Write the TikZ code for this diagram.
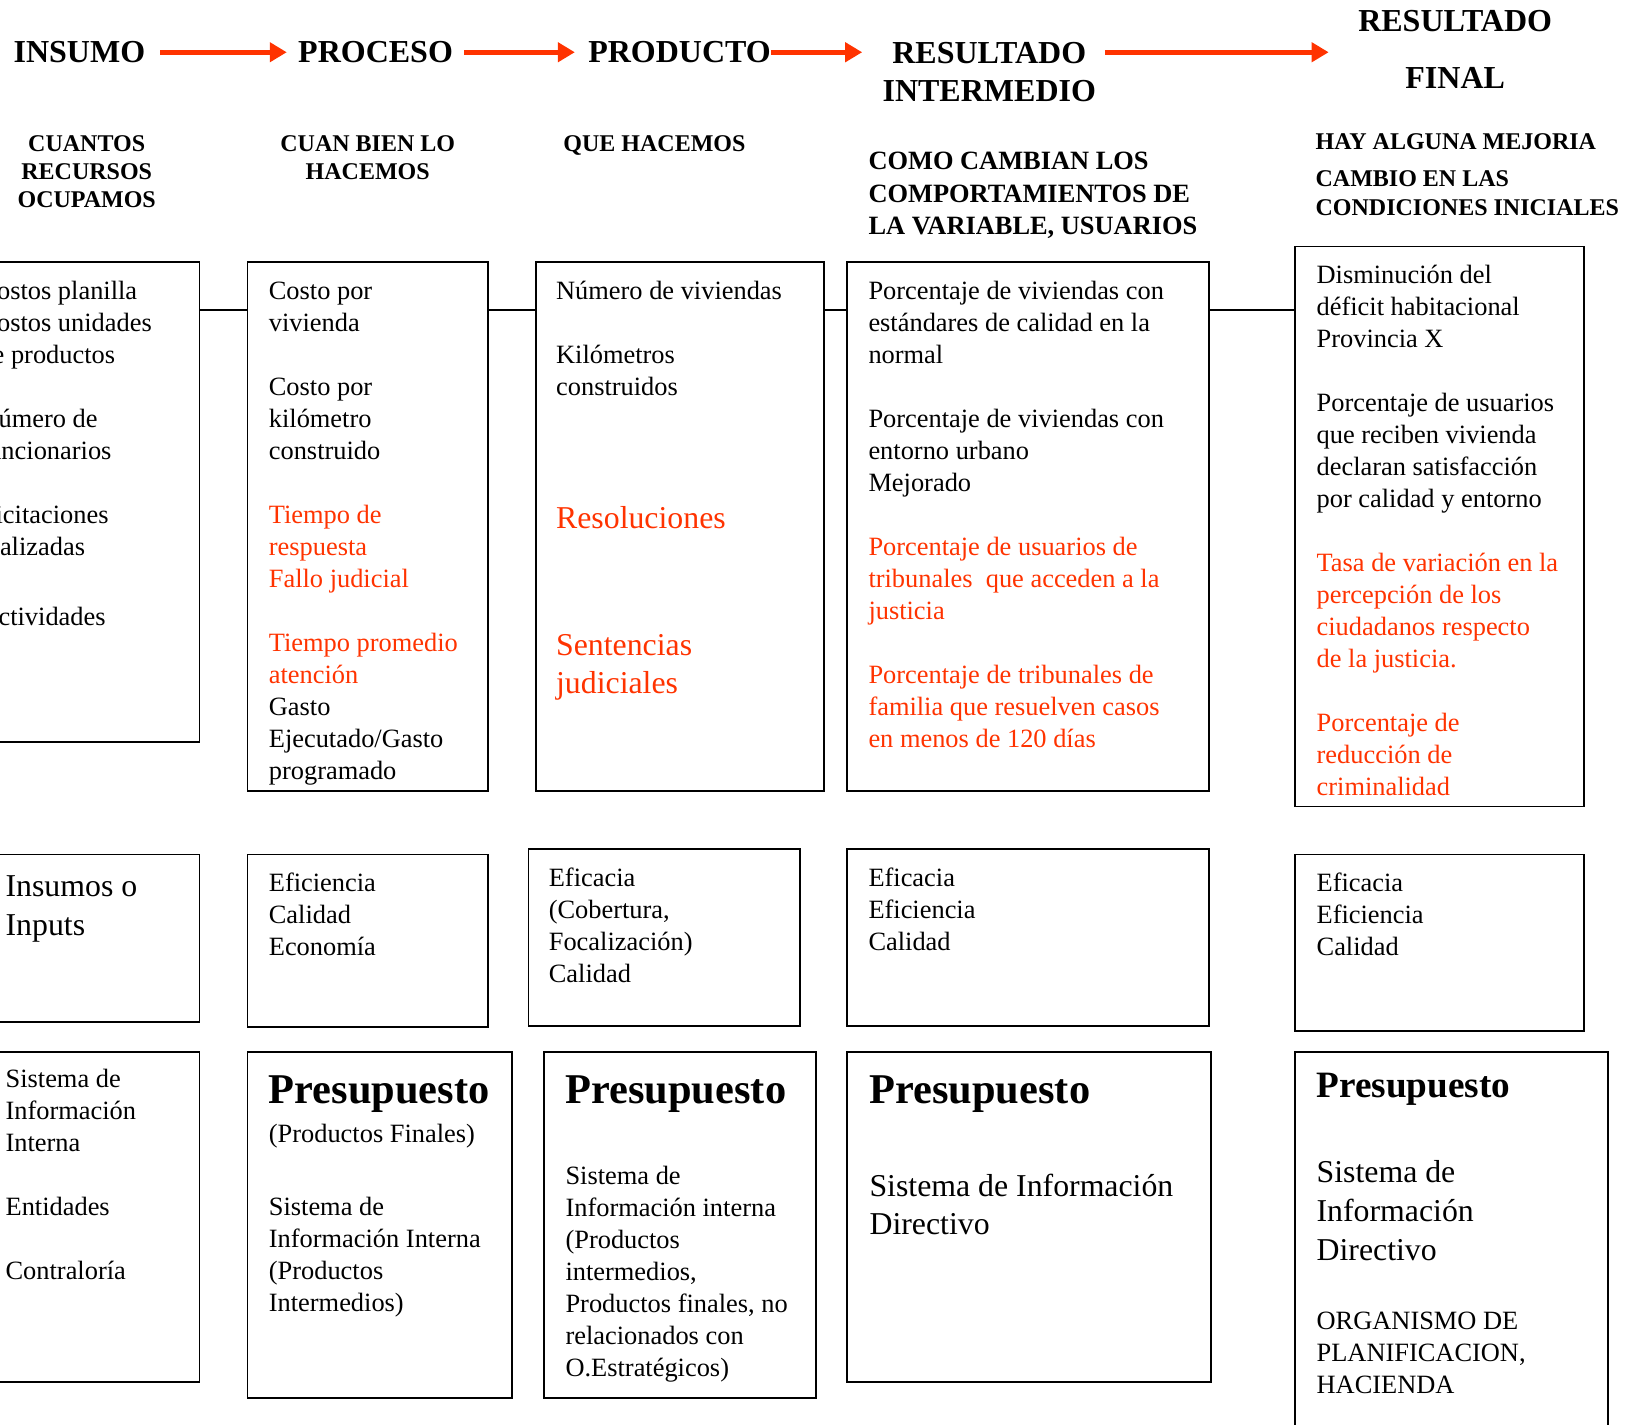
\documentclass[tikz,border=0pt]{standalone}
\usepackage{fontspec}
\setmainfont{Liberation Serif}
\usepackage{tikz}
\usetikzlibrary{arrows.meta,fit}
\definecolor{rojo}{RGB}{255,51,0}
\newcommand{\enrojo}{\color{rojo}}
\newcommand{\ennegro}{\color{black}}
\tikzset{
  box/.style={rectangle, draw=black, line width=0.9pt, inner sep=0pt},
  txt/.style={anchor=north west, inner sep=0pt, align=left, font=\fontsize{13.2}{16}\selectfont},
  txtbig/.style={txt, font=\fontsize{15.9}{19.3}\selectfont},
  pres/.style={anchor=base west, inner sep=0pt, font=\fontsize{21.2}{25}\selectfont\bfseries},
  hdr/.style={inner sep=0pt, align=center, font=\fontsize{16}{19.3}\selectfont\bfseries},
  sub/.style={inner sep=0pt, align=center, font=\fontsize{12}{14.1}\selectfont\bfseries},
  flecha/.style={draw=rojo, line width=2.7pt, -{Triangle[length=8.5pt,width=9.5pt]}},
  line/.style={draw, line width=1pt},
}
\begin{document}
\begin{tikzpicture}[x=0.5223pt,y=-0.5223pt]
  \useasboundingbox (0,0) rectangle (1568,1364);
  \clip (0,0) rectangle (1568,1364);

  % cabecera
  \node[hdr, anchor=base] (insumo) at (76,60) {INSUMO};
  \node[hdr, anchor=base] (proceso) at (359.5,60) {PROCESO};
  \node[hdr, anchor=base] (producto) at (650.5,60) {PRODUCTO};
  \node[hdr, anchor=north] (resint) at (947,34.1) {\strut RESULTADO\\INTERMEDIO};
  \node[hdr, anchor=north] (resfin) at (1393,4.1) {\strut RESULTADO\\[8.9pt]FINAL};

  \node[sub, anchor=north] (cuantos) at (83,125.7) {\strut CUANTOS\\RECURSOS\\OCUPAMOS};
  \node[sub, anchor=north] (cuanbien) at (352,125.7) {\strut CUAN BIEN LO\\HACEMOS};
  \node[sub, anchor=north] (que) at (626.5,125.7) {\strut QUE HACEMOS};
  \node[sub, anchor=north west, align=left, font=\fontsize{13.2}{16.2}\selectfont\bfseries] (como) at (831,140.5) {\strut COMO CAMBIAN LOS\\COMPORTAMIENTOS DE\\LA VARIABLE, USUARIOS};
  \node[sub, anchor=north west, align=left] (hay) at (1259,123.7) {\strut HAY ALGUNA MEJORIA\\[4.7pt]CAMBIO EN LAS\\CONDICIONES INICIALES};

  % cajas fila 1
  \node[box, fit={(-40,251) (191,710)}] (b1) {};
  \node[box, fit={(237,251) (467,757)}] (b2) {};
  \node[box, fit={(513,251) (789,757)}] (b3) {};
  \node[box, fit={(811,251) (1157,757)}] (b4) {};
  \node[box, fit={(1240,236) (1516,772)}] (b5) {};

  \node[txt] (t1) at (-20,264.6) {\strut Costos planilla\\Costos unidades\\de productos\\[16pt]Número de\\funcionarios\\[16pt]Licitaciones\\realizadas\\[19pt]Actividades};
  \node[txt] (t2) at (257,264.6) {\strut Costo por\\vivienda\\[16pt]Costo por\\kilómetro\\construido\\[16pt]\enrojo Tiempo de\\\enrojo respuesta\\\enrojo Fallo judicial\\[16pt]\enrojo Tiempo promedio\\\enrojo atención\\\ennegro Gasto\\\ennegro Ejecutado/Gasto\\\ennegro programado};
  \node[txt] (t3) at (532,264.6) {\strut Número de viviendas\\[16pt]Kilómetros\\construidos};
  \node[txtbig] (t3r) at (532,480) {\strut\enrojo Resoluciones\\[43.9pt]\enrojo Sentencias\\\enrojo judiciales};
  \node[txt] (t4) at (831,264.6) {\strut Porcentaje de viviendas con\\estándares de calidad en la\\normal\\[16pt]Porcentaje de viviendas con\\entorno urbano\\Mejorado\\[16pt]\enrojo Porcentaje de usuarios de\\\enrojo tribunales\ \ que acceden a la\\\enrojo justicia\\[16pt]\enrojo Porcentaje de tribunales de\\\enrojo familia que resuelven casos\\\enrojo en menos de 120 días};
  \node[txt] (t5) at (1260,249.6) {\strut Disminución del\\déficit habitacional\\Provincia X\\[16pt]Porcentaje de usuarios\\que reciben vivienda\\declaran satisfacción\\por calidad y entorno\\[16pt]\enrojo Tasa de variación en la\\\enrojo percepción de los\\\enrojo ciudadanos respecto\\\enrojo de la justicia.\\[16pt]\enrojo Porcentaje de\\\enrojo reducción de\\\enrojo criminalidad};

  % cajas fila 2
  \node[box, fit={(-40,818) (191,978)}] (c1) {};
  \node[box, fit={(237,818) (467,983)}] (c2) {};
  \node[box, fit={(506,813) (766,982)}] (c3) {};
  \node[box, fit={(811,813) (1157,982)}] (c4) {};
  \node[box, fit={(1240,818) (1516,987)}] (c5) {};

  \node[txtbig] (tc1) at (5,832) {\strut Insumos o\\Inputs};
  \node[txt] (tc2) at (257,831.6) {\strut Eficiencia\\Calidad\\Economía};
  \node[txt] (tc3) at (525,826.6) {\strut Eficacia\\(Cobertura,\\Focalización)\\Calidad};
  \node[txt] (tc4) at (831,826.6) {\strut Eficacia\\Eficiencia\\Calidad};
  \node[txt] (tc5) at (1260,831.6) {\strut Eficacia\\Eficiencia\\Calidad};

  % cajas fila 3
  \node[box, fit={(-40,1007) (191,1323)}] (d1) {};
  \node[box, fit={(237,1007) (490,1338)}] (d2) {};
  \node[box, fit={(521,1007) (781,1338)}] (d3) {};
  \node[box, fit={(811,1007) (1159,1323)}] (d4) {};
  \node[box, fit={(1240,1007) (1539,1400)}] (d5) {};

  \node[txt] (td1) at (5,1019.6) {\strut Sistema de\\Información\\Interna\\[16pt]Entidades\\[16pt]Contraloría};
  \node[pres] (pd2) at (257,1056.5) {Presupuesto};
  \node[txt] (td2a) at (257,1072) {\strut (Productos Finales)};
  \node[txt] (td2b) at (257,1142) {\strut Sistema de\\Información Interna\\(Productos\\Intermedios)};
  \node[pres] (pd3) at (541,1056.5) {Presupuesto};
  \node[txt] (td3) at (541,1111.6) {\strut Sistema de\\Información interna\\(Productos\\intermedios,\\Productos finales, no\\relacionados con\\O.Estratégicos)};
  \node[pres] (pd4) at (832,1056.5) {Presupuesto};
  \node[txtbig] (td4) at (832,1119) {\strut Sistema de Información\\Directivo};
  \node[pres, font=\fontsize{18.6}{22}\selectfont\bfseries] (pd5) at (1260,1051) {Presupuesto};
  \node[txtbig] (td5a) at (1260,1106) {\strut Sistema de\\Información\\Directivo};
  \node[txt] (td5b) at (1260,1251) {\strut ORGANISMO DE\\PLANIFICACION,\\HACIENDA};

  % flechas y enlaces
  \draw[flecha, shorten <=7.3pt, shorten >=5.5pt] (insumo.east) -- (proceso.west);
  \draw[flecha, shorten <=5.5pt, shorten >=6.5pt] (proceso.east) -- (producto.west);
  \draw[flecha, shorten >=10pt] (producto.east) -- (resint.west |- producto.east);
  \draw[flecha, shorten <=4.2pt, shorten >=14.6pt] (resint.east |- producto.east) -- (resfin.west |- producto.east);

  \coordinate (lnk) at (0,297);
  \begin{scope}[every path/.style=line]
    \path (b1.east |- lnk) -- (b2.west |- lnk);
    \path (b2.east |- lnk) -- (b3.west |- lnk);
    \path (b3.east |- lnk) -- (b4.west |- lnk);
    \path (b4.east |- lnk) -- (b5.west |- lnk);
  \end{scope}
\end{tikzpicture}
\end{document}
